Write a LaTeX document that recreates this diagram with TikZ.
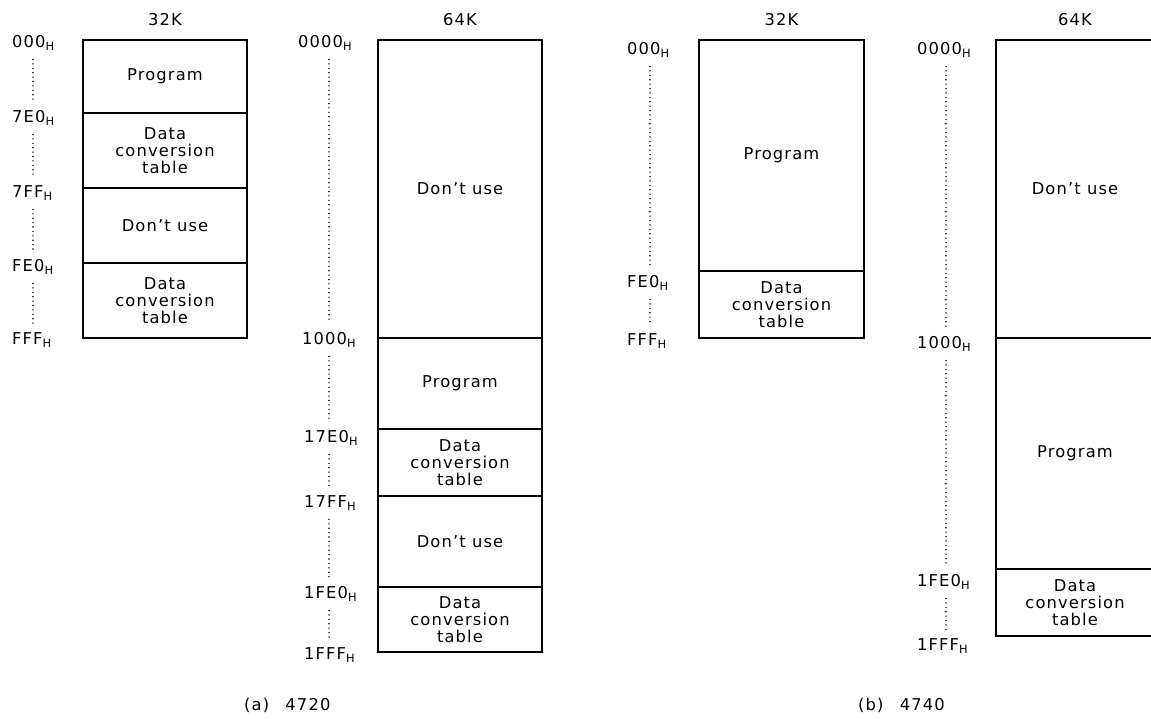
\documentclass[tikz,border=0pt]{standalone}
\usepackage{fontspec}
\setmainfont[LetterSpace=7]{DejaVu Sans}
\begin{document}
\begin{tikzpicture}[x=1pt,y=-1pt,
  every node/.style={font=\fontsize{16.3}{17}\selectfont},
  region/.style={draw, line width=1.2pt, rectangle, inner sep=0pt, align=center},
  addr/.style={anchor=west, inner sep=0pt},
  ttl/.style={inner sep=0pt},
  dots/.style={line width=1.6pt, line cap=round, dash pattern=on 0pt off 4.4pt, shorten <=9pt, shorten >=9pt},
  captxt/.style={inner sep=0pt}]
\useasboundingbox (0,0) rectangle (1151,719);

% ---------- (a) 32K ----------
\node[ttl] (ta1) at (165,20) {32K};
\node[region, minimum width=164pt, minimum height=73pt] (a1r1) at (165,76.5) {Program};
\node[region, minimum width=164pt, minimum height=75pt] (a1r2) at (165,150.5) {Data\\conversion\\table};
\node[region, minimum width=164pt, minimum height=75pt] (a1r3) at (165,225.5) {Don't use};
\node[region, minimum width=164pt, minimum height=75pt] (a1r4) at (165,300.5) {Data\\conversion\\table};
\coordinate (ca1) at (33,0);
\node[addr] (a1l0) at (12,43) {000\textsubscript{H}};
\node[addr] (a1l1) at (12,118) {7E0\textsubscript{H}};
\node[addr] (a1l2) at (12,193) {7FF\textsubscript{H}};
\node[addr] (a1l3) at (12,267) {FE0\textsubscript{H}};
\node[addr] (a1l4) at (12,340) {FFF\textsubscript{H}};
\draw[dots] (a1l0.south -| ca1) -- (a1l1.north -| ca1);
\draw[dots] (a1l1.south -| ca1) -- (a1l2.north -| ca1);
\draw[dots] (a1l2.south -| ca1) -- (a1l3.north -| ca1);
\draw[dots] (a1l3.south -| ca1) -- (a1l4.north -| ca1);

% ---------- (a) 64K ----------
\node[ttl] (ta2) at (460,20) {64K};
\node[region, minimum width=164pt, minimum height=298pt] (a2r1) at (460,189) {Don't use};
\node[region, minimum width=164pt, minimum height=91pt] (a2r2) at (460,383.5) {Program};
\node[region, minimum width=164pt, minimum height=67pt] (a2r3) at (460,462.5) {Data\\conversion\\table};
\node[region, minimum width=164pt, minimum height=91pt] (a2r4) at (460,541.5) {Don't use};
\node[region, minimum width=164pt, minimum height=65pt] (a2r5) at (460,619.5) {Data\\conversion\\table};
\coordinate (ca2) at (329,0);
\node[addr] (a2l0) at (298,43) {0000\textsubscript{H}};
\node[addr] (a2l1) at (302,340) {1000\textsubscript{H}};
\node[addr] (a2l2) at (304,438) {17E0\textsubscript{H}};
\node[addr] (a2l3) at (304,503) {17FF\textsubscript{H}};
\node[addr] (a2l4) at (304,594) {1FE0\textsubscript{H}};
\node[addr] (a2l5) at (304,655) {1FFF\textsubscript{H}};
\draw[dots] (a2l0.south -| ca2) -- (a2l1.north -| ca2);
\draw[dots] (a2l1.south -| ca2) -- (a2l2.north -| ca2);
\draw[dots] (a2l2.south -| ca2) -- (a2l3.north -| ca2);
\draw[dots] (a2l3.south -| ca2) -- (a2l4.north -| ca2);
\draw[dots] (a2l4.south -| ca2) -- (a2l5.north -| ca2);

% ---------- (b) 32K ----------
\node[ttl] (tb1) at (781.5,20) {32K};
\node[region, minimum width=165pt, minimum height=231pt] (b1r1) at (781.5,155.5) {Program};
\node[region, minimum width=165pt, minimum height=67pt] (b1r2) at (781.5,304.5) {Data\\conversion\\table};
\coordinate (cb1) at (650,0);
\node[addr] (b1l0) at (627,50) {000\textsubscript{H}};
\node[addr] (b1l1) at (627,283) {FE0\textsubscript{H}};
\node[addr] (b1l2) at (627,341) {FFF\textsubscript{H}};
\draw[dots] (b1l0.south -| cb1) -- (b1l1.north -| cb1);
\draw[dots] (b1l1.south -| cb1) -- (b1l2.north -| cb1);

% ---------- (b) 64K ----------
\node[ttl] (tb2) at (1075,20) {64K};
\node[region, minimum width=158pt, minimum height=298pt] (b2r1) at (1075,189) {Don't use};
\node[region, minimum width=158pt, minimum height=231pt] (b2r2) at (1075,453.5) {Program};
\node[region, minimum width=158pt, minimum height=67pt] (b2r3) at (1075,602.5) {Data\\conversion\\table};
\coordinate (cb2) at (946,0);
\node[addr] (b2l0) at (917,50) {0000\textsubscript{H}};
\node[addr] (b2l1) at (917,344) {1000\textsubscript{H}};
\node[addr] (b2l2) at (917,582) {1FE0\textsubscript{H}};
\node[addr] (b2l3) at (917,646) {1FFF\textsubscript{H}};
\draw[dots] (b2l0.south -| cb2) -- (b2l1.north -| cb2);
\draw[dots] (b2l1.south -| cb2) -- (b2l2.north -| cb2);
\draw[dots] (b2l2.south -| cb2) -- (b2l3.north -| cb2);

% ---------- captions ----------
\node[captxt, anchor=west] (capa) at (244,705) {(a)\hspace{1em}4720};
\node[captxt, anchor=west] (capb) at (858,705) {(b)\hspace{1em}4740};
\end{tikzpicture}
\end{document}
